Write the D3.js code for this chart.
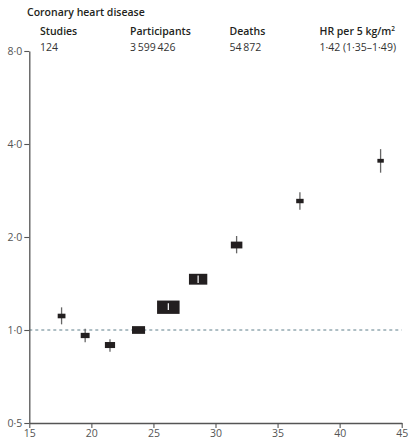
<!DOCTYPE html>
<html>
<head>
<meta charset="utf-8">
<script src="https://cdn.jsdelivr.net/npm/d3@7"></script>
<style>
  html, body { margin: 0; padding: 0; background: #fff; }
  svg { display: block; font-family: "Open Sans", "Noto Sans", sans-serif; }
</style>
</head>
<body>
<svg id="chart" width="411" height="442"></svg>
<script>
// BMI groups: median BMI of each group, hazard ratio with 95% CI, relative weight
const bmi      = [17.6, 19.5, 21.5, 23.8, 26.2, 28.6, 31.7, 36.8, 43.3];
const hr       = [1.11, 0.96, 0.894, 1.0, 1.185, 1.46, 1.884, 2.615, 3.53];
const ciLow    = [1.043, 0.912, 0.851, 1.0, 1.16, 1.42, 1.771, 2.45, 3.23];
const ciHigh   = [1.184, 1.01, 0.933, 1.0, 1.22, 1.50, 2.015, 2.79, 3.85];
const weight   = [35, 46, 60, 99, 294, 195, 77, 32, 24];

const xTicks = [15, 20, 25, 30, 35, 40, 45];
const yTicks = [0.5, 1, 2, 4, 8];

const title = "Coronary heart disease";
const headers = ["Studies", "Participants", "Deaths", "HR per 5 kg/m"];
const values  = ["124", "3\u2009599\u2009426", "54\u2009872", "1\u00b742 (1\u00b735\u20131\u00b749)"];

const svg = d3.select("#chart");
const axisColor = "#555";
const ink = "#231f20";

const x = d3.scaleLinear().domain([15, 45]).range([29.3, 401.7]);
const y = d3.scaleLog().domain([0.5, 8]).range([423, 51]);
const size = d3.scaleSqrt().domain([0, 300]).range([0, 17.5]);
const fmt = v => d3.format(".1f")(v).replace(".", "\u00b7");

// header block
svg.append("text").attr("x", 27).attr("y", 15.5)
  .attr("font-size", 10.5).attr("font-weight", 600).attr("fill", ink).text(title);

const colX = [40, 130, 229.5, 319.5];
const head = svg.selectAll("text.head").data(headers).join("text")
  .attr("class", "head")
  .attr("x", (d, i) => colX[i]).attr("y", 35)
  .attr("font-size", 10.5).attr("font-weight", 600).attr("fill", ink)
  .text(d => d);
head.filter((d, i) => i === 3).append("tspan")
  .attr("dy", -4).attr("font-size", 6.5).text("2");

svg.selectAll("text.val").data(values).join("text")
  .attr("class", "val")
  .attr("x", (d, i) => colX[i]).attr("y", 50.5)
  .attr("font-size", 10.5).attr("fill", "#333")
  .text(d => d);

// reference line at HR = 1
svg.append("line")
  .attr("x1", x(15)).attr("x2", x(45))
  .attr("y1", y(1)).attr("y2", y(1))
  .attr("stroke", "#5f7f8a").attr("stroke-width", 1)
  .attr("stroke-dasharray", "3,3");

// axes
const yAxis = svg.append("g").attr("transform", `translate(${x(15)},0)`)
  .call(d3.axisLeft(y).tickValues(yTicks).tickFormat(fmt).tickSize(5).tickSizeOuter(0).tickPadding(2));
const xAxis = svg.append("g").attr("transform", `translate(0,${y(0.5)})`)
  .call(d3.axisBottom(x).tickValues(xTicks).tickFormat(d3.format("d")).tickSize(5).tickSizeOuter(0).tickPadding(2));
[yAxis, xAxis].forEach(g => {
  g.select(".domain").attr("stroke", axisColor).attr("stroke-width", 1.3);
  g.selectAll(".tick line").attr("stroke", axisColor).attr("stroke-width", 1.1);
  g.selectAll(".tick text").attr("fill", axisColor).attr("font-size", 10.5)
    .attr("font-family", "\"Open Sans\", sans-serif");
});

// points
const pts = bmi.map((b, i) => {
  const a = size(weight[i]);
  return { b, hr: hr[i], lo: ciLow[i], hi: ciHigh[i], w: a * 1.3, h: a / 1.3 };
});

const g = svg.append("g");
// confidence intervals behind the boxes
g.selectAll("line.ci").data(pts.filter(p => p.hi > p.lo)).join("line")
  .attr("class", "ci")
  .attr("x1", p => x(p.b)).attr("x2", p => x(p.b))
  .attr("y1", p => y(p.hi)).attr("y2", p => y(p.lo))
  .attr("stroke", "#666").attr("stroke-width", 1.3);

g.selectAll("rect").data(pts).join("rect")
  .attr("x", p => x(p.b) - p.w / 2).attr("y", p => y(p.hr) - p.h / 2)
  .attr("width", p => p.w).attr("height", p => p.h)
  .attr("fill", ink);

// intervals that fall inside their box are drawn in white on top
g.selectAll("line.inner").data(pts.filter(p => p.hi > p.lo &&
    y(p.hi) > y(p.hr) - p.h / 2 && y(p.lo) < y(p.hr) + p.h / 2)).join("line")
  .attr("class", "inner")
  .attr("x1", p => x(p.b)).attr("x2", p => x(p.b))
  .attr("y1", p => y(p.hi)).attr("y2", p => y(p.lo))
  .attr("stroke", "#fff").attr("stroke-width", 1.2);
</script>
</body>
</html>
